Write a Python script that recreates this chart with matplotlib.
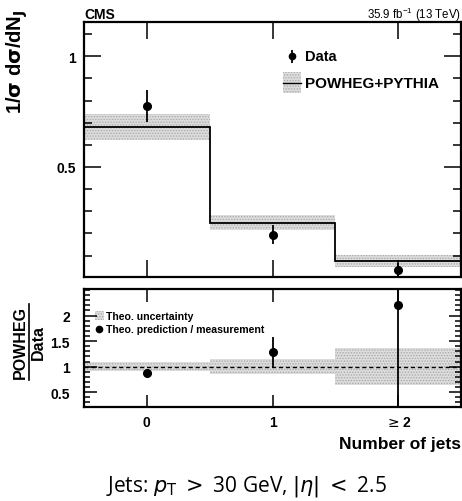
#!/usr/bin/env python3
"""Normalised jet multiplicity: data vs POWHEG+PYTHIA, with ratio panel."""
import matplotlib
matplotlib.use("Agg")
import matplotlib.pyplot as plt
import numpy as np
from matplotlib.ticker import MultipleLocator, FixedLocator

# --- data ---
bin_edges = [-0.5, 0.5, 1.5, 2.5]
bin_centers = [0, 1, 2]
bin_labels = ["0", "1", r"$\geq$2"]

data_vals = [0.775, 0.194, 0.033]
data_err = [0.072, 0.043, 0.035]

mc_vals = [0.680, 0.249, 0.074]
mc_unc = [0.060, 0.035, 0.028]

ratio_vals = [0.875, 1.29, 2.20]
ratio_err_lo = [0.03, 0.29, 2.5]
ratio_err_hi = [0.03, 0.29, 2.5]
ratio_band = [0.095, 0.14, 0.36]

plt.rcParams["font.family"] = ["Liberation Sans", "DejaVu Sans"]
plt.rcParams["mathtext.fontset"] = "dejavusans"
plt.rcParams["hatch.linewidth"] = 0.6

W, H = 462, 502
fig = plt.figure(figsize=(W / 100, H / 100), dpi=100)


def fx(px):
    return px / W


def fy(py):
    return 1 - py / H


def dx(px):
    # pixel x -> data x (both panels share x range -0.5..2.5 over 84..461 px)
    return (px - 84) / 377 * 3 - 0.5


BAND_FC = "#dcdcdc"
BAND_EC = "#a8a8a8"

ax = fig.add_axes([fx(84), fy(278), fx(461) - fx(84), fy(23) - fy(278)])
rax = fig.add_axes([fx(84), fy(408), fx(461) - fx(84), fy(290) - fy(408)])

# --- top panel ---
edges = np.array(bin_edges)
mc = np.array(mc_vals)
unc = np.array(mc_unc)
ax.stairs(mc + unc, edges, baseline=mc - unc, fill=True, facecolor=BAND_FC,
          edgecolor=BAND_EC, hatch="......", linewidth=0, zorder=1)
ax.stairs(mc, edges, baseline=None, color="black", linewidth=1.3, zorder=2)
ax.errorbar(bin_centers, data_vals, yerr=data_err, fmt="o", color="black",
            markersize=5.5, elinewidth=1.3, capsize=0, zorder=3)

ax.set_xlim(-0.5, 2.5)
ax.set_ylim(0.003, 1.155)
ax.yaxis.set_major_locator(FixedLocator([0.5, 1.0]))
ax.yaxis.set_minor_locator(MultipleLocator(0.1))
ax.set_yticklabels(["0.5", "1"])
ax.xaxis.set_major_locator(FixedLocator(bin_centers))
ax.xaxis.set_minor_locator(FixedLocator([]))
ax.set_xticklabels([])

# legend, drawn by hand ROOT-style
ax.errorbar([dx(292)], [1.0], yerr=[0.03], fmt="o", color="black", markersize=4.5,
            elinewidth=1.3, capsize=0)
ax.text(dx(305), 1.0, "Data", fontsize=10.5, fontweight="bold",
        va="center", ha="left")
ax.fill_between([dx(283), dx(301)], [0.835, 0.835], [0.927, 0.927],
                facecolor=BAND_FC, edgecolor=BAND_EC, hatch="......", linewidth=0)
ax.plot([dx(283), dx(301)], [0.88, 0.88], color="black", linewidth=1.0)
ax.text(dx(305), 0.88, "POWHEG+PYTHIA", fontsize=11,
        fontweight="bold", va="center", ha="left")

fig.text(fx(84), fy(19), "CMS", fontsize=10, fontweight="bold", ha="left", va="baseline")
fig.text(fx(461), fy(19), r"35.9 fb$^{\mathregular{-1}}$ (13 TeV)", fontsize=8.3,
         ha="right", va="baseline")
fig.text(fx(17), fy(9), r"1/$\mathbf{\sigma}$ d$\mathbf{\sigma}$/dN$_{\mathbf{J}}$",
         fontsize=14.5, fontweight="bold", rotation=90, ha="center", va="top")

# --- ratio panel ---
ones = np.ones(3)
rb = np.array(ratio_band)
rax.stairs(ones + rb, edges, baseline=ones - rb, fill=True, facecolor=BAND_FC,
           edgecolor=BAND_EC, hatch="......", linewidth=0, zorder=1)
rax.axhline(1.0, color="black", linestyle=(0, (3, 2)), linewidth=1.0, zorder=2)
rax.errorbar(bin_centers, ratio_vals, yerr=[ratio_err_lo, ratio_err_hi], fmt="o",
             color="black", markersize=5.5, elinewidth=1.3, capsize=0, zorder=3)
rax.set_xlim(-0.5, 2.5)
rax.set_ylim(0.21, 2.52)
rax.set_yticks([0.5, 1.0, 1.5, 2.0])
rax.set_yticklabels(["0.5", "1", "1.5", "2"])
rax.yaxis.set_minor_locator(MultipleLocator(0.1))
rax.xaxis.set_major_locator(FixedLocator(bin_centers))
rax.xaxis.set_minor_locator(FixedLocator([]))
rax.set_xticklabels(bin_labels)

# ratio legend
rax.fill_between([dx(95), dx(104)], [1.91, 1.91], [2.09, 2.09], facecolor=BAND_FC,
                 edgecolor=BAND_EC, hatch="......", linewidth=0)
rax.text(dx(106), 2.0, "Theo. uncertainty", fontsize=7.6,
         fontweight="bold", va="center", ha="left")
rax.plot([dx(99)], [1.73], "o", color="black", markersize=4.5)
rax.text(dx(106), 1.73, "Theo. prediction / measurement",
         fontsize=7.6, fontweight="bold", va="center", ha="left")

# ratio y label as a fraction
fig.text(fx(20), fy(343), "POWHEG", fontsize=11.5, fontweight="bold", rotation=90,
         ha="center", va="center")
fig.text(fx(38), fy(343), "Data", fontsize=11.5, fontweight="bold", rotation=90,
         ha="center", va="center")
fig.add_artist(plt.Line2D([fx(29), fx(29)], [fy(305), fy(381)], color="black",
                          linewidth=1.2, transform=fig.transFigure))

fig.text(fx(461), fy(445), "Number of jets", fontsize=12.5, fontweight="bold",
         ha="right", va="center")
fig.text(fx(246), fy(487), r"Jets: $p_{\mathrm{T}}\;>\;$30 GeV, $|\eta|\;<\;$2.5",
         fontsize=15, ha="center", va="center", family=["Open Sans", "DejaVu Sans"])

for a, major_len in ((ax, 12), (rax, 9)):
    for s in a.spines.values():
        s.set_linewidth(1.6)
    a.tick_params(which="both", direction="in", top=True, right=True, width=1.1,
                  labelsize=10)
    a.tick_params(which="major", length=major_len)
    a.tick_params(which="minor", length=major_len / 2.2)
    for lab in a.get_xticklabels() + a.get_yticklabels():
        lab.set_fontweight("bold")
ax.tick_params(axis="y", which="major", pad=6)
rax.tick_params(axis="y", which="major", pad=10)
rax.tick_params(axis="x", which="major", pad=6)

fig.savefig("out.png", dpi=100)
